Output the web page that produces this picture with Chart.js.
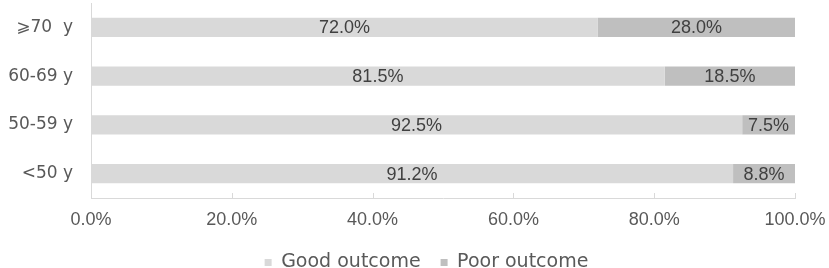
<!DOCTYPE html>
<html>
<head>
<meta charset="utf-8">
<script src="https://cdn.jsdelivr.net/npm/chart.js@4.4.1/dist/chart.umd.min.js"></script>
<style>
  html, body { margin: 0; padding: 0; background: #fff; }
  #wrap { width: 829px; height: 268px; }
</style>
</head>
<body>
<div id="wrap"><canvas id="outcomeChart"></canvas></div>
<script>
const ageGroups = ['\u2A7E70  y', '60-69 y', '50-59 y', '<50 y'];
const goodOutcome = [72.0, 81.5, 92.5, 91.2];
const poorOutcome = [28.0, 18.5, 7.5, 8.8];
const xTicks = [0, 20, 40, 60, 80, 100];

const numFont = '"Liberation Sans", Arial, sans-serif';
const labelFont = '"DejaVu Sans", sans-serif';
const textColor = '#595959';
const axisColor = '#d9d9d9';

// value labels in the middle of each bar segment
const barLabels = {
    id: 'barLabels',
    afterDatasetsDraw(chart) {
        const ctx = chart.ctx;
        ctx.save();
        ctx.font = '18px ' + numFont;
        ctx.fillStyle = '#404040';
        ctx.textAlign = 'center';
        ctx.textBaseline = 'middle';
        chart.data.datasets.forEach((ds, i) => {
            chart.getDatasetMeta(i).data.forEach((bar, j) => {
                const p = bar.getProps(['x', 'y', 'base'], true);
                ctx.fillText(ds.data[j].toFixed(1) + '%', (p.x + p.base) / 2, p.y + 1);
            });
        });
        ctx.restore();
    }
};

// small tick marks pointing up from the x axis line
const innerTicks = {
    id: 'innerTicks',
    afterDraw(chart) {
        const x = chart.scales.x;
        const ctx = chart.ctx;
        ctx.save();
        ctx.strokeStyle = axisColor;
        ctx.lineWidth = 1;
        xTicks.slice(1).forEach(v => {
            const px = Math.round(x.getPixelForValue(v)) + 0.5;
            ctx.beginPath();
            ctx.moveTo(px, x.top);
            ctx.lineTo(px, x.top - 5);
            ctx.stroke();
        });
        ctx.restore();
    }
};

// legend sits a little right of the canvas centre in the original
const legendShift = {
    id: 'legendShift',
    afterLayout(chart) {
        chart.legend.left += 12;
        chart.legend.right += 12;
    }
};

function noPad(scale) {
    scale.paddingTop = 0;
    scale.paddingBottom = 0;
    scale.paddingLeft = 0;
    scale.paddingRight = 0;
}

new Chart(document.getElementById('outcomeChart'), {
    type: 'bar',
    data: {
        labels: ageGroups,
        datasets: [
            {
                label: 'Good outcome',
                data: goodOutcome,
                backgroundColor: '#d9d9d9',
                categoryPercentage: 1,
                barPercentage: 0.39
            },
            {
                label: 'Poor outcome',
                data: poorOutcome,
                backgroundColor: '#bfbfbf',
                categoryPercentage: 1,
                barPercentage: 0.39
            }
        ]
    },
    options: {
        indexAxis: 'y',
        responsive: true,
        maintainAspectRatio: false,
        animation: false,
        layout: { padding: { left: 0, right: 0, top: 3, bottom: -14 } },
        scales: {
            x: {
                stacked: true,
                min: 0,
                max: 100,
                afterBuildTicks(scale) {
                    scale.ticks = xTicks.map(v => ({ value: v }));
                },
                afterFit(scale) {
                    noPad(scale);
                    scale.paddingRight = 34;
                    scale.height = 35;
                },
                grid: { display: false, drawTicks: false },
                border: { display: true, color: axisColor, width: 1 },
                ticks: {
                    color: textColor,
                    font: { family: numFont, size: 18 },
                    padding: 11,
                    maxRotation: 0,
                    callback: v => v.toFixed(1) + '%'
                }
            },
            y: {
                stacked: true,
                afterFit(scale) {
                    noPad(scale);
                    scale.width = 91;
                },
                grid: { display: false, drawTicks: false },
                border: { display: true, color: axisColor, width: 1 },
                ticks: {
                    color: textColor,
                    font: { family: labelFont, size: 17 },
                    padding: 18
                }
            }
        },
        plugins: {
            legend: {
                position: 'bottom',
                labels: {
                    color: textColor,
                    font: { family: labelFont, size: 19 },
                    boxWidth: 7,
                    boxHeight: 7,
                    padding: 20
                }
            },
            tooltip: { enabled: false }
        }
    },
    plugins: [barLabels, innerTicks, legendShift]
});
</script>
</body>
</html>
